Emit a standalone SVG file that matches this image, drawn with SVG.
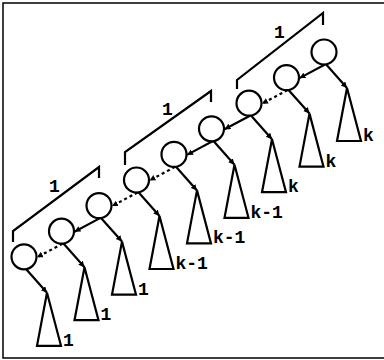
<svg xmlns="http://www.w3.org/2000/svg" width="384" height="360" viewBox="0 0 384 360">
<style>
.n{fill:none;stroke:#000;stroke-width:2.2}
.t{fill:none;stroke:#000;stroke-width:2.2;stroke-linejoin:miter}
.e{fill:none;stroke:#000;stroke-width:2.2}
.d{fill:none;stroke:#000;stroke-width:2.2;stroke-dasharray:3,3}
.b{fill:none;stroke:#000;stroke-width:2.2}
text{font-family:"Liberation Mono","Courier New",monospace;font-weight:bold;font-size:18px;fill:#000}
</style>
<defs>
<marker id="ah" markerUnits="userSpaceOnUse" markerWidth="8" markerHeight="8" refX="6" refY="3" orient="auto">
<path d="M0,0 L6,3 L0,6 Z" fill="#000"/>
</marker>
</defs>
<rect width="384" height="360" fill="#fff"/>
<path d="M384,3 H3 V358 H384" fill="none" stroke="#000" stroke-width="1.5"/>
<g id="brackets">
<path class="b" d="M237,89 V80 L323,13 V25"/>
<text x="274" y="38">1</text>
<path class="b" d="M125,165 V152 L211,91 V102"/>
<text x="162" y="115">1</text>
<path class="b" d="M13,242 V231 L99,167 V178"/>
<text x="49" y="192">1</text>
</g>
<g id="connectors">
<path class="e" d="M325,64.5 L299.5,78.1" marker-end="url(#ah)"/>
<path class="d" d="M287.5,90.1 L262,103.7" marker-end="url(#ah)"/>
<path class="e" d="M250,115.7 L224.5,129.3" marker-end="url(#ah)"/>
<path class="e" d="M212.5,141.3 L187,154.9" marker-end="url(#ah)"/>
<path class="d" d="M175,166.9 L149.5,180.5" marker-end="url(#ah)"/>
<path class="d" d="M137.5,192.5 L112,206.1" marker-end="url(#ah)"/>
<path class="e" d="M100,218.1 L74.5,231.7" marker-end="url(#ah)"/>
<path class="d" d="M62.5,243.7 L37,257.3" marker-end="url(#ah)"/>
<path class="e" d="M326,64.3 L347,88" marker-end="url(#ah)"/>
<path class="e" d="M288.5,89.9 L309.5,113.6" marker-end="url(#ah)"/>
<path class="e" d="M251,115.5 L272,139.2" marker-end="url(#ah)"/>
<path class="e" d="M213.5,141.1 L234.5,164.8" marker-end="url(#ah)"/>
<path class="e" d="M176,166.7 L197,190.4" marker-end="url(#ah)"/>
<path class="e" d="M138.5,192.3 L159.5,216" marker-end="url(#ah)"/>
<path class="e" d="M101,217.9 L122,241.6" marker-end="url(#ah)"/>
<path class="e" d="M63.5,243.5 L84.5,267.2" marker-end="url(#ah)"/>
<path class="e" d="M26,269.1 L47,292.8" marker-end="url(#ah)"/>
</g>
<g id="n0"><circle class="n" cx="324" cy="52" r="12.5"/></g>
<g id="n1"><circle class="n" cx="286.5" cy="77.6" r="12.5"/></g>
<g id="n2"><circle class="n" cx="249" cy="103.2" r="12.5"/></g>
<g id="n3"><circle class="n" cx="211.5" cy="128.8" r="12.5"/></g>
<g id="n4"><circle class="n" cx="174" cy="154.4" r="12.5"/></g>
<g id="n5"><circle class="n" cx="136.5" cy="180" r="12.5"/></g>
<g id="n6"><circle class="n" cx="99" cy="205.6" r="12.5"/></g>
<g id="n7"><circle class="n" cx="61.5" cy="231.2" r="12.5"/></g>
<g id="n8"><circle class="n" cx="24" cy="256.8" r="12.5"/></g>
<g id="t0"><path class="t" d="M347,88 L337,141 H361 Z"/><text x="363" y="141">k</text></g>
<g id="t1"><path class="t" d="M309.5,113.6 L299.5,166.6 H323.5 Z"/><text x="325.5" y="166.6">k</text></g>
<g id="t2"><path class="t" d="M272,139.2 L262,192.2 H286 Z"/><text x="288" y="192.2">k</text></g>
<g id="t3"><path class="t" d="M234.5,164.8 L224.5,217.8 H248.5 Z"/><text x="250.5" y="217.8">k-1</text></g>
<g id="t4"><path class="t" d="M197,190.4 L187,243.4 H211 Z"/><text x="213" y="243.4">k-1</text></g>
<g id="t5"><path class="t" d="M159.5,216 L149.5,269 H173.5 Z"/><text x="175.5" y="269">k-1</text></g>
<g id="t6"><path class="t" d="M122,241.6 L112,294.6 H136 Z"/><text x="138" y="294.6">1</text></g>
<g id="t7"><path class="t" d="M84.5,267.2 L74.5,320.2 H98.5 Z"/><text x="100.5" y="320.2">1</text></g>
<g id="t8"><path class="t" d="M47,292.8 L37,345.8 H61 Z"/><text x="63" y="345.8">1</text></g>
</svg>
